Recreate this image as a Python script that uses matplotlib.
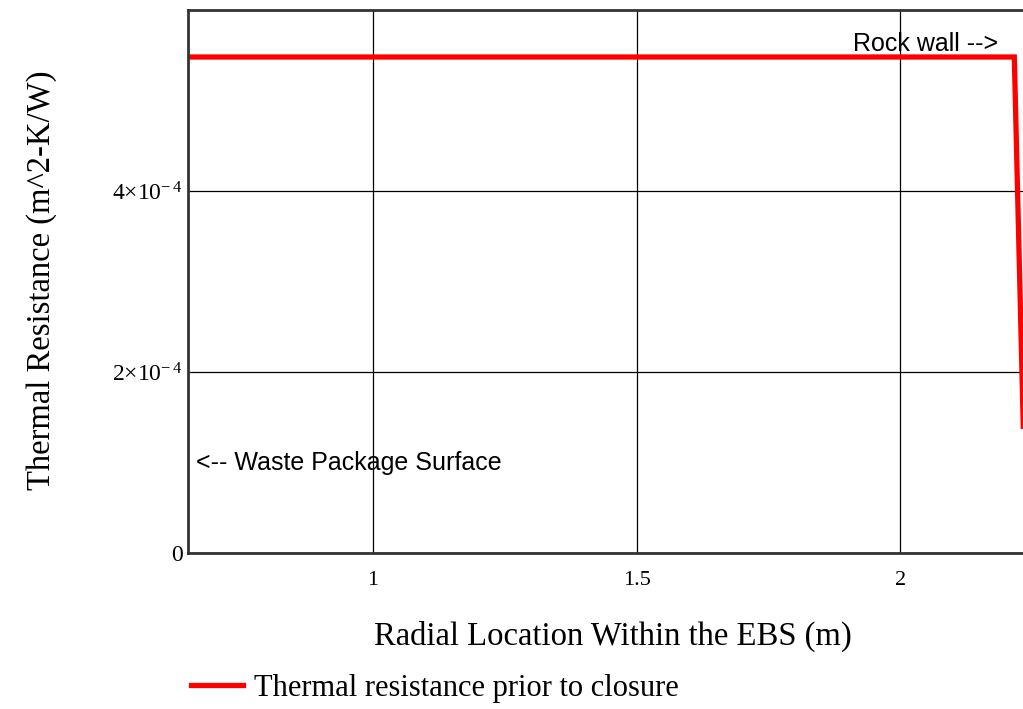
import matplotlib.pyplot as plt

# radial location (m) and thermal resistance (m^2-K/W)
radius = [0.65, 1.0, 1.5, 2.0, 2.2165, 2.2335]
resistance = [5.48e-4, 5.48e-4, 5.48e-4, 5.48e-4, 5.48e-4, 1.4e-4]

xticks = [1, 1.5, 2]
xtick_labels = ['1', '1.5', '2']
yticks = [0, 2e-4, 4e-4]
ytick_labels = ['0', r'$2{\times}10^{-\,4}$', r'$4{\times}10^{-\,4}$']

serif = ['Liberation Serif', 'DejaVu Serif']
sans = ['Liberation Sans', 'DejaVu Sans']
plt.rcParams['mathtext.fontset'] = 'custom'
plt.rcParams['mathtext.rm'] = 'Liberation Serif'
plt.rcParams['mathtext.it'] = 'Liberation Serif:italic'

fig = plt.figure(figsize=(10.23, 7.09), dpi=100)
ax = fig.add_axes([0.1838, 0.22, 0.8162, 0.766])

line, = ax.plot(radius, resistance, color='#ff0000', lw=3.8, solid_joinstyle='miter')

ax.set_xlim(0.649, 2.233)
ax.set_ylim(0, 6.0e-4)
ax.set_xticks(xticks)
ax.set_xticklabels(xtick_labels, family=serif, fontsize=16)
ax.set_yticks(yticks)
ax.set_yticklabels(ytick_labels, family=serif, fontsize=17)
ax.tick_params(length=0)
ax.tick_params(axis='x', pad=13)
ax.tick_params(axis='y', pad=4)
ax.grid(True, color='black', lw=0.9)

ax.spines['right'].set_visible(False)
for s in ['left', 'bottom', 'top']:
    ax.spines[s].set_color('#333333')
    ax.spines[s].set_linewidth(2)

ax.set_xlabel('Radial Location Within the EBS (m)', family=serif, fontsize=23.5)
ax.xaxis.set_label_coords(0.509, -0.125)
ax.set_ylabel('Thermal Resistance (m^2-K/W)', family=serif, fontsize=23.5)
ax.yaxis.set_label_coords(-0.157, 0.503)

ax.text(1.911, 5.62e-4, 'Rock wall -->', family=sans, fontsize=18, ha='left', va='center')
ax.text(0.664, 1.0e-4, '<-- Waste Package Surface', family=sans, fontsize=18, ha='left', va='center')

fig.legend([line], ['Thermal resistance prior to closure'], loc='center left',
           bbox_to_anchor=(0.1867, 0.0296), frameon=False, handlelength=1.7,
           handletextpad=0.36, borderpad=0, borderaxespad=0,
           prop={'family': serif, 'size': 22})

fig.savefig('out.png', dpi=100)
